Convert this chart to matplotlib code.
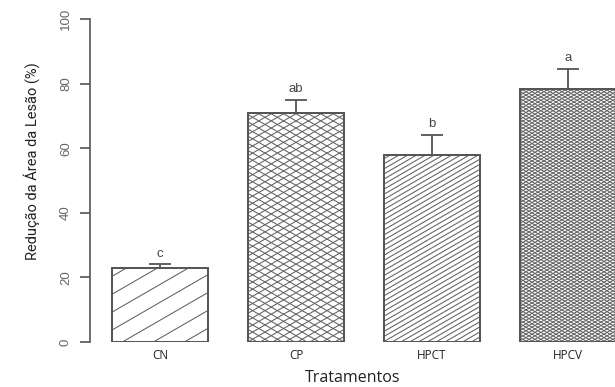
import numpy as np
import matplotlib
matplotlib.use("Agg")
import matplotlib.pyplot as plt
from matplotlib.transforms import IdentityTransform
from matplotlib.collections import LineCollection

# treatment groups, mean reduction (%) and upper error
categories = ["CN", "CP", "HPCT", "HPCV"]
values = [23.0, 71.0, 58.0, 78.3]
errors = [1.0, 4.0, 6.1, 6.3]
letters = ["c", "ab", "b", "a"]
yticks = [0, 20, 40, 60, 80, 100]

# hatch style per bar: (angles in degrees, spacing in pixels)
hatch_styles = [
    ([30], 15.5),
    ([30, -30], 6.2),
    ([30], 4.4),
    ([30, -30], 3.0),
]

edge = "#555555"
W, H = 615, 387
fig = plt.figure(figsize=(W / 100, H / 100), dpi=100)
ax = fig.add_axes([90 / W, (H - 342) / H, 525 / W, 323 / H])
ax.set_xlim(-0.515, 3.346)
ax.set_ylim(0, 100)

x = np.arange(len(categories))
bars = ax.bar(x, values, width=0.71, color="white", edgecolor=edge,
              linewidth=1.3, zorder=2)

fig.canvas.draw()


def hatch_lines(x0, y0, x1, y1, angle, spacing):
    """Parallel lines at `angle` covering the pixel box (x0, y0)-(x1, y1)."""
    t = np.deg2rad(angle)
    d = np.array([np.cos(t), np.sin(t)])
    n = np.array([-np.sin(t), np.cos(t)])
    cx, cy = (x0 + x1) / 2, (y0 + y1) / 2
    r = np.hypot(x1 - x0, y1 - y0)
    segs = []
    for k in np.arange(-r, r + spacing, spacing):
        c = np.array([cx, cy]) + n * k
        segs.append([c - d * r, c + d * r])
    return segs


for bar, (angles, spacing) in zip(bars, hatch_styles):
    bx0, by0 = ax.transData.transform((bar.get_x(), 0))
    bx1, by1 = ax.transData.transform((bar.get_x() + bar.get_width(), bar.get_height()))
    for a in angles:
        segs = hatch_lines(bx0, by0, bx1, by1, a, spacing)
        lc = LineCollection(segs, colors="#606060", linewidths=0.75,
                            transform=IdentityTransform(), zorder=2.5)
        ax.add_collection(lc, autolim=False)
        lc.set_clip_path(bar)
    # redraw edge on top of hatch lines
    ax.bar(bar.get_x() + bar.get_width() / 2, bar.get_height(),
           width=bar.get_width(), color="none", edgecolor=edge,
           linewidth=1.3, zorder=3)

# upper error bars and significance letters
for xi, v, e, lab in zip(x, values, errors, letters):
    ax.errorbar(xi, v + e / 2, yerr=e / 2, fmt="none", ecolor=edge,
                elinewidth=1.3, capsize=8, capthick=1.3, zorder=4)
    ax.text(xi, v + e + 1.4, lab, ha="center", va="bottom", fontsize=9.5,
            color="#444444", family=["Liberation Sans", "DejaVu Sans"])

# R-style axis: left only, spanning the tick range
for s in ["top", "right", "bottom"]:
    ax.spines[s].set_visible(False)
ax.spines["left"].set_bounds(0, 100)
ax.spines["left"].set_color(edge)
ax.spines["left"].set_linewidth(1.2)
ax.set_yticks(yticks)
ax.set_yticklabels([str(t) for t in yticks], rotation=90, va="center",
                   fontsize=9.5, color="#666666",
                   family=["Liberation Sans", "DejaVu Sans"])
ax.tick_params(axis="y", length=7, width=1.2, color=edge, pad=6)

ax.set_xticks(x)
ax.set_xticklabels(categories, fontsize=8.5, color="#222222",
                   family=["Open Sans", "DejaVu Sans"])
ax.tick_params(axis="x", length=0, pad=5)

ax.set_xlabel("Tratamentos", fontsize=11.5, color="#222222",
              family=["Open Sans", "DejaVu Sans"], labelpad=6)
ax.set_ylabel("Redução da Área da Lesão (%)", fontsize=10.5, color="#222222",
              family=["Roboto", "DejaVu Sans"])
ax.yaxis.set_label_coords(-0.095, 0.56)

fig.savefig("out.png", dpi=100)
